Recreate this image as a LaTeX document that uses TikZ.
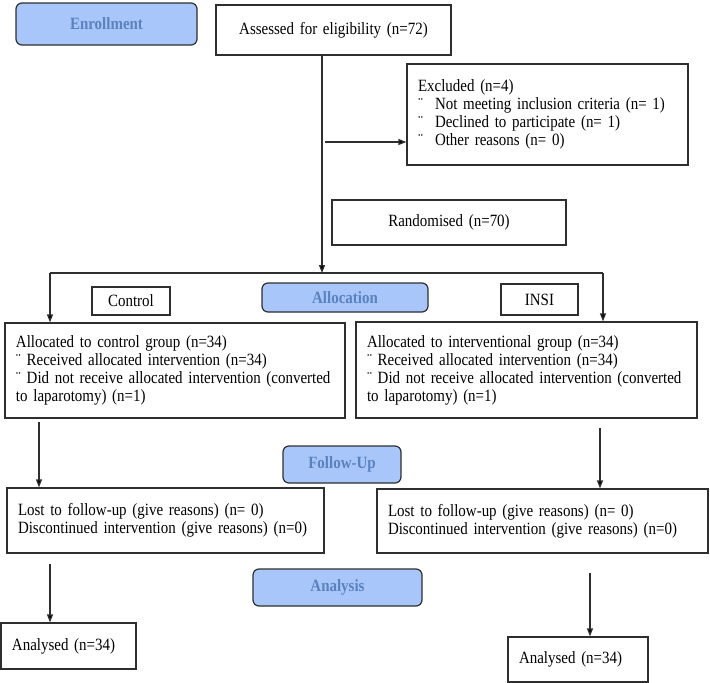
\documentclass[tikz,border=0pt]{standalone}
\usepackage{fontspec}
\setmainfont{Liberation Serif}[FakeStretch=0.87]
\usetikzlibrary{arrows.meta}
\definecolor{phasefill}{HTML}{A9C6FA}
\definecolor{phasetext}{HTML}{5A82BE}
\definecolor{linegray}{HTML}{2E2E2E}
\tikzset{
    >={Triangle[length=8pt,width=6pt]}, % Filled arrowheads
    every node/.style={font=\fontsize{17.2}{18}\selectfont}, % Text size
    box/.style={draw=linegray, line width=1.2pt, align=left, inner xsep=11pt, inner ysep=0pt}, % Plain boxes
    midbox/.style={box, align=center}, % Boxes with centred text
    phase/.style={draw=linegray, line width=1.2pt, rounded corners=6pt, fill=phasefill, text=phasetext,
        font=\fontsize{17.2}{18}\selectfont\bfseries, inner sep=0pt}, % Stage labels
    link/.style={draw=linegray, line width=1.2pt}, % Connectors
}

\begin{document}
\begin{tikzpicture}[x=1pt, y=-1pt]
    \useasboundingbox (0,0) rectangle (710,683);

    % stage labels
    \node[phase, minimum width=181pt, minimum height=42pt] (enrol) at (106.5,24) {Enrollment};
    \node[phase, minimum width=166pt, minimum height=29pt] (alloc) at (345,297.5) {Allocation};
    \node[phase, minimum width=118pt, minimum height=37pt] (follow) at (342,464.5) {Follow-Up};
    \node[phase, minimum width=169pt, minimum height=37pt] (analysis) at (337.5,587.5) {Analysis};

    % enrollment
    \node[midbox, text width=213pt, minimum height=50pt] (assess) at (333.5,30) {Assessed for eligibility (n=72)};
    \node[box, text width=259pt, minimum height=101pt] (excl) at (547.5,114.5) {Excluded (n=4)\\
        \makebox[17pt][l]{¨}Not meeting inclusion criteria (n= 1)\\
        \makebox[17pt][l]{¨}Declined to participate (n= 1)\\
        \makebox[17pt][l]{¨}Other reasons (n= 0)};
    \node[midbox, text width=212pt, minimum height=45pt] (rand) at (449,222.5) {Randomised (n=70)};

    % allocation
    \node[midbox, text width=56pt, minimum height=28pt] (ctrl) at (131,301) {Control};
    \node[midbox, text width=55pt, minimum height=31pt] (insi) at (539.5,299.5) {INSI};
    \node[box, text width=318pt, minimum height=95pt] (lalloc) at (175,370.5) {Allocated to control group (n=34)\\
        ¨ Received allocated intervention (n=34)\\
        ¨ Did not receive allocated intervention (converted\\
        to laparotomy) (n=1)};
    \node[box, text width=319pt, minimum height=96pt] (ralloc) at (526.5,370) {Allocated to interventional group (n=34)\\
        ¨ Received allocated intervention (n=34)\\
        ¨ Did not receive allocated intervention (converted\\
        to laparotomy) (n=1)};

    % follow-up
    \node[box, text width=295pt, minimum height=65pt] (llost) at (165.5,520.5) {Lost to follow-up (give reasons) (n= 0)\\
        Discontinued intervention (give reasons) (n=0)};
    \node[box, text width=309pt, minimum height=64pt] (rlost) at (542.5,521) {Lost to follow-up (give reasons) (n= 0)\\
        Discontinued intervention (give reasons) (n=0)};

    % analysis
    \node[box, text width=113pt, minimum height=46pt] (lana) at (68.5,646) {Analysed (n=34)};
    \node[box, text width=118pt, minimum height=45pt] (rana) at (578,659.5) {Analysed (n=34)};

    % free ends of the connectors
    \coordinate (split) at (322,273);
    \coordinate (lcorner) at (50,273);
    \coordinate (rcorner) at (603,273);
    \coordinate (exbranch) at (325,142);
    \coordinate (lfu) at (39,422);
    \coordinate (rfu) at (600,428);
    \coordinate (lan) at (50,564);
    \coordinate (ran) at (590,573);

    \path[link]
        (assess.south -| split) edge[->] (split)
        (exbranch) edge[->] (exbranch -| excl.west)
        (lcorner) edge (rcorner)
        (lcorner) edge[->] (lcorner |- lalloc.north)
        (rcorner) edge[->] (rcorner |- ralloc.north)
        (lfu) edge[->] (lfu |- llost.north)
        (rfu) edge[->] (rfu |- rlost.north)
        (lan) edge[->] (lan |- lana.north)
        (ran) edge[->] (ran |- rana.north);
\end{tikzpicture}
\end{document}
